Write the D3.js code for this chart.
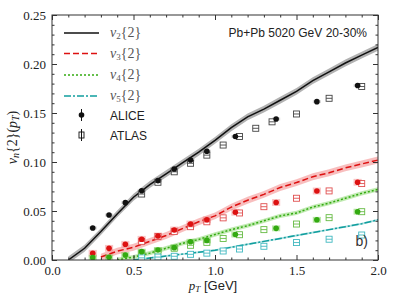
<!DOCTYPE html>
<html>
<head>
<meta charset="utf-8">
<script src="https://cdn.jsdelivr.net/npm/d3@7"></script>
<style>
  body { margin: 0; background: #fff; }
  svg { display: block; }
  .tick text { font-family: "Liberation Serif", serif; font-size: 13px; fill: #222; }
</style>
</head>
<body>
<div id="chart"></div>
<script>
var svgWidth = 399;
var svgHeight = 299;

// model curves (hydro), common pT grid
var modelPt = [0.1, 0.2, 0.3, 0.4, 0.5, 0.6, 0.7, 0.8, 0.9, 1.0, 1.1, 1.2, 1.3, 1.4, 1.5, 1.6, 1.7, 1.8, 1.9, 2.0];
var v2Model = [0.000, 0.012, 0.029, 0.047, 0.064, 0.077, 0.088, 0.099, 0.110, 0.122, 0.135, 0.146, 0.154, 0.163, 0.172, 0.183, 0.192, 0.201, 0.209, 0.217];
var v3Model = [null, null, 0.003, 0.009, 0.013, 0.019, 0.025, 0.032, 0.039, 0.045, 0.054, 0.061, 0.067, 0.074, 0.079, 0.085, 0.089, 0.094, 0.098, 0.102];
var v4Model = [null, null, null, 0.000, 0.003, 0.007, 0.012, 0.017, 0.021, 0.026, 0.031, 0.035, 0.040, 0.045, 0.048, 0.054, 0.058, 0.063, 0.068, 0.072];
var v5Model = [null, null, null, null, 0.000, 0.002, 0.004, 0.006, 0.008, 0.010, 0.013, 0.016, 0.019, 0.022, 0.025, 0.028, 0.031, 0.034, 0.037, 0.041];
var modelBand = [0.0035, 0.0035, 0.0022, 0.001];

// ALICE data
var alicePt = [0.25, 0.35, 0.45, 0.55, 0.65, 0.75, 0.85, 0.95, 1.125, 1.375, 1.625, 1.875];
var aliceV2 = [0.0327, 0.0459, 0.0585, 0.0707, 0.081, 0.0929, 0.102, 0.111, 0.126, 0.1439, 0.1616, 0.178];
var aliceV3 = [0.0068, 0.0119, 0.016, 0.0211, 0.0245, 0.0306, 0.0367, 0.041, 0.0487, 0.0587, 0.0704, 0.0793];
var aliceV4 = [0.0024, 0.0027, 0.0051, 0.0085, 0.0102, 0.0126, 0.0186, 0.020, 0.026, 0.0323, 0.041, 0.0493];
var aliceSys = [0.0015, 0.0035, 0.003];

// ATLAS data
var atlasPtV2 = [0.55, 0.65, 0.75, 0.85, 0.95, 1.05, 1.15, 1.25, 1.35, 1.5, 1.7, 1.9];
var atlasV2 = [0.0673, 0.0793, 0.090, 0.0987, 0.107, 0.1173, 0.126, 0.1344, 0.141, 0.149, 0.165, 0.177];
var atlasPt = [0.55, 0.65, 0.75, 0.85, 0.95, 1.05, 1.15, 1.3, 1.5, 1.7, 1.9];
var atlasV3 = [0.019, 0.024, 0.029, 0.034, 0.039, 0.043, 0.048, 0.0544, 0.063, 0.0705, 0.078];
var atlasV4 = [0.007, 0.009, 0.012, 0.015, 0.018, 0.022, 0.0258, 0.031, 0.0367, 0.0432, 0.0493];
var atlasV5 = [0.0022, 0.003, 0.0038, 0.0058, 0.007, 0.0092, 0.0112, 0.014, 0.0178, 0.0212, 0.0255];

var harmonics = ["2", "3", "4", "5"];
var xTicks = [0.0, 0.5, 1.0, 1.5, 2.0];
var yTicks = [0.00, 0.05, 0.10, 0.15, 0.20, 0.25];

var lineColors = ["#111111", "#dd1111", "#33aa11", "#119e9e"];
var bandColors = ["rgba(0,0,0,0.3)", "rgba(235,70,70,0.35)", "rgba(90,200,50,0.38)", "rgba(30,170,170,0.35)"];
var sysColors = ["rgba(0,0,0,0.15)", "rgba(240,110,110,0.4)", "rgba(100,200,60,0.45)"];
var atlasColors = ["#444444", "#e05050", "#66bb44", "#40b8c0"];
var dashes = [null, "6,3", "2,2", "7,2,2,2"];

var margin = { top: 15, right: 21, bottom: 39, left: 52 };
var width = svgWidth - margin.left - margin.right;
var height = svgHeight - margin.top - margin.bottom;

var svg = d3.select("#chart")
  .append("svg")
  .attr("width", svgWidth)
  .attr("height", svgHeight);

var x = d3.scaleLinear().domain([0, 2]).range([margin.left, margin.left + width]);
var y = d3.scaleLinear().domain([0, 0.25]).range([margin.top + height, margin.top]);

svg.append("clipPath").attr("id", "plotclip")
  .append("rect")
  .attr("x", margin.left).attr("y", margin.top)
  .attr("width", width).attr("height", height);

var plot = svg.append("g").attr("clip-path", "url(#plotclip)");

// model bands and lines
var models = [v2Model, v3Model, v4Model, v5Model];
models.forEach(function(vals, i) {
  var pts = modelPt.map(function(p, j) { return { pt: p, v: vals[j] }; });
  var area = d3.area()
    .defined(d => d.v !== null)
    .x(d => x(d.pt))
    .y0(d => y(d.v - modelBand[i]))
    .y1(d => y(d.v + modelBand[i]));
  plot.append("path").datum(pts)
    .attr("d", area)
    .attr("fill", bandColors[i]);
});
models.forEach(function(vals, i) {
  var pts = modelPt.map(function(p, j) { return { pt: p, v: vals[j] }; });
  var line = d3.line()
    .defined(d => d.v !== null)
    .x(d => x(d.pt))
    .y(d => y(d.v));
  plot.append("path").datum(pts)
    .attr("d", line)
    .attr("fill", "none")
    .attr("stroke", lineColors[i])
    .attr("stroke-width", 1.5)
    .attr("stroke-dasharray", dashes[i]);
});

// ALICE systematic boxes
var aliceSets = [aliceV2, aliceV3, aliceV4];
aliceSets.forEach(function(vals, i) {
  plot.selectAll(null)
    .data(alicePt.map((p, j) => ({ pt: p, v: vals[j] })))
    .enter()
    .append("rect")
    .attr("x", d => x(d.pt - 0.025))
    .attr("width", d => x(d.pt + 0.025) - x(d.pt - 0.025))
    .attr("y", d => y(d.v + aliceSys[i]))
    .attr("height", d => y(d.v - aliceSys[i]) - y(d.v + aliceSys[i]))
    .attr("fill", sysColors[i]);
});

// ATLAS open squares
var atlasSets = [
  { pt: atlasPtV2, v: atlasV2 },
  { pt: atlasPt, v: atlasV3 },
  { pt: atlasPt, v: atlasV4 },
  { pt: atlasPt, v: atlasV5 }
];
atlasSets.forEach(function(set, i) {
  var g = plot.selectAll(null)
    .data(set.pt.map((p, j) => ({ pt: p, v: set.v[j] })))
    .enter()
    .append("g")
    .attr("transform", d => `translate(${x(d.pt)},${y(d.v)})`);
  g.append("rect")
    .attr("x", -3).attr("y", -3).attr("width", 6).attr("height", 6)
    .attr("fill", "white")
    .attr("stroke", atlasColors[i])
    .attr("stroke-width", 0.9);
  g.append("line")
    .attr("x1", -3).attr("x2", 3).attr("y1", 0).attr("y2", 0)
    .attr("stroke", atlasColors[i])
    .attr("stroke-width", 0.9);
});

// ALICE filled circles
aliceSets.forEach(function(vals, i) {
  plot.selectAll(null)
    .data(alicePt.map((p, j) => ({ pt: p, v: vals[j] })))
    .enter()
    .append("circle")
    .attr("cx", d => x(d.pt))
    .attr("cy", d => y(d.v))
    .attr("r", 2.8)
    .attr("fill", lineColors[i]);
});

// axes, ticks pointing inward
var xMinor = d3.range(0, 2.001, 0.1).filter(v => Math.abs(v * 2 - Math.round(v * 2)) > 1e-6);
var yMinor = d3.range(0, 0.2501, 0.01).filter(v => Math.abs(v * 20 - Math.round(v * 20)) > 1e-6);

function addAxis(axis, tx, ty) {
  var g = svg.append("g").attr("transform", `translate(${tx},${ty})`).call(axis);
  g.select(".domain").remove();
  g.selectAll(".tick line").attr("stroke", "#333");
  return g;
}

addAxis(d3.axisBottom(x).tickValues(xTicks).tickFormat(d3.format(".1f")).tickSizeInner(-5).tickSizeOuter(0).tickPadding(6), 0, margin.top + height);
addAxis(d3.axisBottom(x).tickValues(xMinor).tickFormat("").tickSizeInner(-2.5).tickSizeOuter(0), 0, margin.top + height);
addAxis(d3.axisTop(x).tickValues(xTicks).tickFormat("").tickSizeInner(-5).tickSizeOuter(0), 0, margin.top);
addAxis(d3.axisTop(x).tickValues(xMinor).tickFormat("").tickSizeInner(-2.5).tickSizeOuter(0), 0, margin.top);
addAxis(d3.axisLeft(y).tickValues(yTicks).tickFormat(d3.format(".2f")).tickSizeInner(-5).tickSizeOuter(0).tickPadding(6), margin.left, 0);
addAxis(d3.axisLeft(y).tickValues(yMinor).tickFormat("").tickSizeInner(-2.5).tickSizeOuter(0), margin.left, 0);
addAxis(d3.axisRight(y).tickValues(yTicks).tickFormat("").tickSizeInner(-5).tickSizeOuter(0), margin.left + width, 0);
addAxis(d3.axisRight(y).tickValues(yMinor).tickFormat("").tickSizeInner(-2.5).tickSizeOuter(0), margin.left + width, 0);

svg.append("rect")
  .attr("x", margin.left).attr("y", margin.top)
  .attr("width", width).attr("height", height)
  .attr("fill", "none")
  .attr("stroke", "#333")
  .attr("stroke-width", 1);

// axis labels
var xLabel = svg.append("text")
  .attr("x", margin.left + width / 2 - 2)
  .attr("y", 290)
  .attr("text-anchor", "middle")
  .attr("font-size", "13px")
  .attr("fill", "#222");
xLabel.append("tspan").attr("font-family", "Liberation Serif, serif").attr("font-style", "italic").text("p");
xLabel.append("tspan").attr("font-family", "Liberation Serif, serif").attr("font-style", "italic")
  .attr("font-size", "9px").attr("dy", 2).text("T");
xLabel.append("tspan").attr("font-family", "Liberation Sans, sans-serif").attr("dy", -2).text(" [GeV]");

var yLabel = svg.append("text")
  .attr("transform", `translate(17,${margin.top + height / 2}) rotate(-90)`)
  .attr("text-anchor", "middle")
  .attr("font-family", "Liberation Serif, serif")
  .attr("font-size", "14px")
  .attr("fill", "#222");
yLabel.append("tspan").attr("font-style", "italic").text("v");
yLabel.append("tspan").attr("font-style", "italic").attr("font-size", "10px").attr("dy", 2).text("n");
yLabel.append("tspan").attr("dy", -2).text("{2}(");
yLabel.append("tspan").attr("font-style", "italic").text("p");
yLabel.append("tspan").attr("font-style", "italic").attr("font-size", "10px").attr("dy", 2).text("T");
yLabel.append("tspan").attr("dy", -2).text(")");

// legend
var legendRows = [33, 53.5, 75, 96, 115, 135];
harmonics.forEach(function(h, i) {
  svg.append("line")
    .attr("x1", 64).attr("x2", 99)
    .attr("y1", legendRows[i]).attr("y2", legendRows[i])
    .attr("stroke", lineColors[i])
    .attr("stroke-width", 1.5)
    .attr("stroke-dasharray", dashes[i]);
  var t = svg.append("text")
    .attr("x", 110).attr("y", legendRows[i] + 4)
    .attr("font-family", "Liberation Serif, serif")
    .attr("font-size", "14px")
    .attr("fill", "#555");
  t.append("tspan").attr("font-style", "italic").text("v");
  t.append("tspan").attr("font-size", "9px").attr("dy", 2).text(h);
  t.append("tspan").attr("dy", -2).text("{2}");
});

var lx = 81.5;
svg.append("line").attr("x1", lx).attr("x2", lx)
  .attr("y1", legendRows[4] - 6).attr("y2", legendRows[4] + 6)
  .attr("stroke", "#111").attr("stroke-width", 1);
svg.append("circle").attr("cx", lx).attr("cy", legendRows[4]).attr("r", 2.8).attr("fill", "#111");
svg.append("line").attr("x1", lx).attr("x2", lx)
  .attr("y1", legendRows[5] - 6).attr("y2", legendRows[5] + 6)
  .attr("stroke", "#111").attr("stroke-width", 1);
svg.append("rect").attr("x", lx - 2.5).attr("y", legendRows[5] - 3).attr("width", 5).attr("height", 6)
  .attr("fill", "white").attr("stroke", "#111").attr("stroke-width", 0.9);
svg.append("line").attr("x1", lx).attr("x2", lx)
  .attr("y1", legendRows[5] - 3).attr("y2", legendRows[5] + 3)
  .attr("stroke", "#111").attr("stroke-width", 1);

["ALICE", "ATLAS"].forEach(function(name, i) {
  svg.append("text")
    .attr("x", 110).attr("y", legendRows[4 + i] + 4.5)
    .attr("font-family", "Liberation Sans, sans-serif")
    .attr("font-size", "12px")
    .attr("fill", "#222")
    .text(name);
});

// annotations
svg.append("text")
  .attr("x", 367).attr("y", 37)
  .attr("text-anchor", "end")
  .attr("font-family", "Liberation Sans, sans-serif")
  .attr("font-size", "12px")
  .attr("fill", "#222")
  .text("Pb+Pb 5020 GeV 20-30%");

svg.append("text")
  .attr("x", 368).attr("y", 246)
  .attr("text-anchor", "end")
  .attr("font-family", "Liberation Sans, sans-serif")
  .attr("font-size", "14px")
  .attr("fill", "#333")
  .text("b)");
</script>
</body>
</html>
